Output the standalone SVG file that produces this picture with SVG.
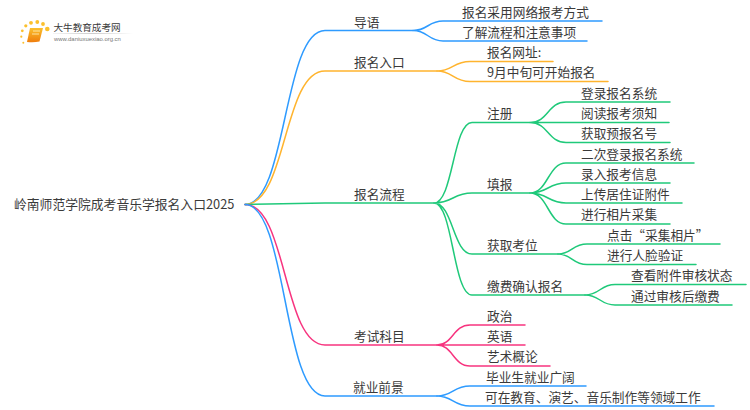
<svg xmlns="http://www.w3.org/2000/svg" width="750" height="410" viewBox="0 0 750 410">
<defs>
<linearGradient id="book" x1="0" y1="0" x2="0" y2="1"><stop offset="0" stop-color="#fbc02d"/><stop offset="1" stop-color="#ef7d0c"/></linearGradient>
<linearGradient id="rule" x1="0" y1="0" x2="1" y2="0"><stop offset="0" stop-color="#ccc" stop-opacity="0.2"/><stop offset="0.5" stop-color="#ccc"/><stop offset="1" stop-color="#ccc" stop-opacity="0"/></linearGradient>
</defs>
<style>
text{font-family:"Noto Sans CJK SC","Noto Sans",sans-serif;font-size:12.7px;fill:#3a3a3a;transform:translateY(-0.6px)}
.c{fill:none;stroke-width:1.5;stroke-linecap:round}
.b{stroke:#2e9bff}.o{stroke:#ffb42e}.g{stroke:#1fc97a}.p{stroke:#f7347f}
.d{fill:#fbc02d}
</style>
<rect width="750" height="410" fill="#fff"/>
<g id="logo">
<circle class="d" cx="47.300" cy="29" r="2.300"/><circle class="d" cx="43" cy="24" r="1.900"/><circle class="d" cx="37.300" cy="22" r="1.900"/>
<circle class="d" cx="31" cy="22.800" r="1.900"/><circle class="d" cx="25.800" cy="25.800" r="1.600"/><circle class="d" cx="22.300" cy="30.800" r="1.400"/><circle class="d" cx="21.300" cy="36.700" r="1.100"/><circle class="d" cx="23.300" cy="42.700" r="1"/>
<path d="M30 28H43L39.500 41.500Q34 42.800 27 42Z" fill="url(#book)"/>
<path d="M33 31H40M32 34H39" stroke="#fff3c4" stroke-width="0.800" fill="none"/>
<rect x="53" y="33" width="80" height="1" fill="url(#rule)"/>
<text x="53.500" y="31.600" style="font-size:9.600px">大牛教育成考网</text>
<text x="54" y="41.300" style="font-size:5.900px;font-family:'Liberation Sans',sans-serif;fill:#777">www.daniuxuexiao.org.cn</text>
</g>
<g id="connectors">
<path class="c b" d="M245 204.500C287 204.500 283 30.500 325 30.500H413"/>
<path class="c o" d="M245 204.500C287 204.500 283 71 325 71H437"/>
<path class="c g" d="M245 204.500L325 203H434"/>
<path class="c p" d="M245 204.500C287 204.500 283 345 325 345H437"/>
<path class="c b" d="M245 204.500C287 204.500 283 396 325 396H437"/>
<path class="c b" d="M413 30.500C428 30.500 428 21 443 21H602M413 30.500C428 30.500 428 41 443 41H587"/>
<path class="c o" d="M437 71C453 71 453 61.500 470 61.500H553M437 71C453 71 453 81.500 470 81.500H608"/>
<path class="c g" d="M434 203C453 203 453 122.500 472 122.500H530M434 203C453 203 453 193 472 193H530M434 203C453 203 453 254 472 254H558M434 203C453 203 453 295 472 295H585"/>
<path class="c g" d="M530 122.500C548 122.500 548 102 566 102H670M530 122.500H669M530 122.500C548 122.500 548 142.500 566 142.500H670"/>
<path class="c g" d="M530 193C548 193 548 163 566 163H694M530 193C548 193 548 183 566 183H670M530 193C548 193 548 203 566 203H682M530 193C548 193 548 224 566 224H670"/>
<path class="c g" d="M558 254C572 254 572 244 587 244H720M558 254C572 254 572 264.500 587 264.500H696"/>
<path class="c g" d="M585 295C600 295 600 284.500 615 284.500H746M585 295C600 295 600 305 615 305H732"/>
<path class="c p" d="M437 345C453 345 453 325 470 325H525M437 345H525M437 345C453 345 453 366 470 366H550"/>
<path class="c b" d="M437 396C453 396 453 386 470 386H586M437 396C453 396 453 406 470 406H714"/>
</g>
<g id="root"><text x="14" y="210" style="font-size:12.8px">岭南师范学院成考音乐学报名入口2025</text></g>
<g id="n1"><text x="354" y="28">导语</text></g>
<g id="n1-1"><text x="462" y="17.500">报名采用网络报考方式</text></g>
<g id="n1-2"><text x="462" y="38">了解流程和注意事项</text></g>
<g id="n2"><text x="354" y="68">报名入口</text></g>
<g id="n2-1"><text x="487" y="58">报名网址:</text></g>
<g id="n2-2"><text x="487" y="78">9月中旬可开始报名</text></g>
<g id="n3"><text x="354" y="200">报名流程</text></g>
<g id="n3-1"><text x="487" y="119">注册</text></g>
<g id="n3-1-1"><text x="581" y="98.500">登录报名系统</text></g>
<g id="n3-1-2"><text x="581" y="119">阅读报考须知</text></g>
<g id="n3-1-3"><text x="581" y="139">获取预报名号</text></g>
<g id="n3-2"><text x="487" y="190">填报</text></g>
<g id="n3-2-1"><text x="581" y="159.500">二次登录报名系统</text></g>
<g id="n3-2-2"><text x="581" y="179.500">录入报考信息</text></g>
<g id="n3-2-3"><text x="581" y="200">上传居住证附件</text></g>
<g id="n3-2-4"><text x="581" y="220">进行相片采集</text></g>
<g id="n3-3"><text x="487" y="251">获取考位</text></g>
<g id="n3-3-1"><text x="607" y="241">点击“采集相片”</text></g>
<g id="n3-3-2"><text x="607" y="261">进行人脸验证</text></g>
<g id="n3-4"><text x="487" y="291.500">缴费确认报名</text></g>
<g id="n3-4-1"><text x="631" y="281">查看附件审核状态</text></g>
<g id="n3-4-2"><text x="631" y="301.500">通过审核后缴费</text></g>
<g id="n4"><text x="354" y="342">考试科目</text></g>
<g id="n4-1"><text x="487" y="322">政治</text></g>
<g id="n4-2"><text x="487" y="342">英语</text></g>
<g id="n4-3"><text x="487" y="362">艺术概论</text></g>
<g id="n5"><text x="353" y="393">就业前景</text></g>
<g id="n5-1"><text x="486" y="383">毕业生就业广阔</text></g>
<g id="n5-2"><text x="485" y="403">可在教育、演艺、音乐制作等领域工作</text></g>
</svg>
